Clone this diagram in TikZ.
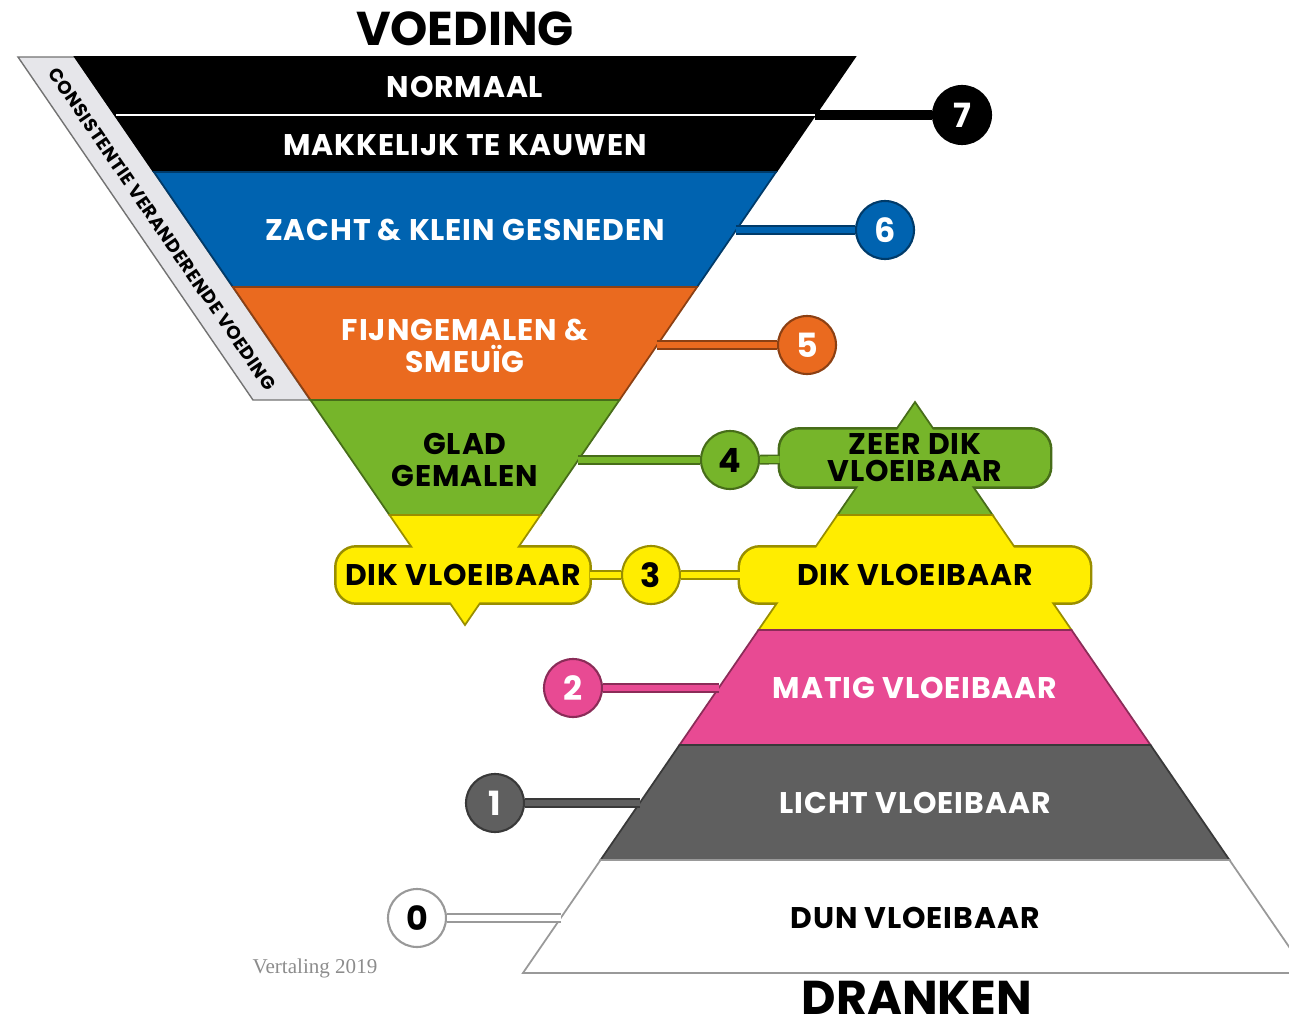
\documentclass[tikz,border=0pt]{standalone}
\usepackage{fontspec}
\setmainfont{Poppins}
\newfontfamily\lblfont{Poppins}[LetterSpace=3]
\newfontfamily\notefont{Liberation Serif}
\definecolor{vblue}{RGB}{0,99,176}
\definecolor{vorange}{RGB}{234,106,31}
\definecolor{vgreen}{RGB}{118,181,42}
\definecolor{vyellow}{RGB}{255,237,0}
\definecolor{vpink}{RGB}{232,74,147}
\definecolor{vgray}{RGB}{95,95,95}
\definecolor{vstrip}{RGB}{230,230,234}
\pgfdeclarelayer{outline}
\pgfsetlayers{outline,main}

\begin{document}
\begin{tikzpicture}[x=0.02cm, y=-0.02cm]
  \tikzstyle{lbl} = [font=\lblfont\bfseries\fontsize{17}{18.5}\selectfont, align=center]
  \tikzstyle{title} = [font=\bfseries\fontsize{27}{28}\selectfont, inner sep=0pt]
  \tikzstyle{num} = [circle, minimum size=1.16cm, inner sep=0pt, line width=1.2pt, font=\bfseries\fontsize{19}{19}\selectfont]
  \tikzstyle{vbox} = [lbl, rectangle, rounded corners=0.4cm, inner sep=0pt]
  \tikzstyle{band} = [line width=1pt]
  \tikzstyle{conn} = [line width=0.9pt, double distance=3.8pt]
  \useasboundingbox (0,0) rectangle (1289,1024);

  \draw[fill=vstrip, draw=black!55, line width=0.8pt] (18,57) -- (75,57) -- (310,400) -- (253,400) -- cycle;
  \node[font=\lblfont\bfseries\fontsize{10.5}{11}\selectfont, rotate=-55.5, inner sep=0pt] (strip) at (162,229) {CONSISTENTIE VERANDERENDE VOEDING};

  \foreach \ya/\yb/\col in {57/172/black, 172/287/vblue, 287/400/vorange, 400/515/vgreen}
  {
    \draw[band, fill=\col, draw=\col!60!black] ({75+(\ya-57)*0.6866},\ya) -- ({855-(\ya-57)*0.6866},\ya) -- ({855-(\yb-57)*0.6866},\yb) -- ({75+(\yb-57)*0.6866},\yb) -- cycle;
  }
  \draw[band, fill=vyellow, draw=vyellow!60!black] (389.5,515) -- (540.5,515) -- (465,625) -- cycle;
  \draw[white, line width=1.4pt] (116,115) -- (815,115);

  \draw[band, fill=vgreen, draw=vgreen!60!black] (915,402) -- (992.6,515) -- (837.4,515) -- cycle;
  \foreach \ya/\yb/\col in {515/630/vyellow, 630/745/vpink, 745/860/vgray, 860/973/white}
  {
    \draw[band, fill=\col, draw=\col!60!black] ({915-(\ya-402)*0.6866},\ya) -- ({915+(\ya-402)*0.6866},\ya) -- ({915+(\yb-402)*0.6866},\yb) -- ({915-(\yb-402)*0.6866},\yb) -- cycle;
  }

  \node[lbl, text=white] (normaal) at (465,87) {NORMAAL};
  \node[lbl, text=white] (kauwen) at (465,145) {MAKKELIJK TE KAUWEN};
  \node[lbl, text=white] (zacht) at (465,230) {ZACHT \& KLEIN GESNEDEN};
  \node[lbl, text=white] (fijn) at (465,346) {FIJNGEMALEN \&\\SMEUÏG};
  \node[lbl] (glad) at (465,460) {GLAD\\GEMALEN};

  \node[vbox, fill=vyellow, minimum width=5.06cm, minimum height=1.1cm] (dikL) at (463,575) {DIK VLOEIBAAR};
  \node[vbox, fill=vyellow, minimum width=7cm, minimum height=1.1cm] (dikR) at (915,575) {DIK VLOEIBAAR};
  \node[vbox, fill=vgreen, minimum width=5.4cm, minimum height=1.14cm, font=\lblfont\bfseries\fontsize{17}{15.5}\selectfont] (zeerdik) at (915,458) {ZEER DIK\\VLOEIBAAR};
  \begin{pgfonlayer}{outline}
    \foreach \b/\col in {dikL/vyellow, dikR/vyellow, zeerdik/vgreen}
      \draw[\col!60!black, line width=2.4pt, rounded corners=0.4cm] (\b.south west) rectangle (\b.north east);
  \end{pgfonlayer}

  \node[lbl, text=white] (matig) at (915,688) {MATIG VLOEIBAAR};
  \node[lbl, text=white] (licht) at (915,803) {LICHT VLOEIBAAR};
  \node[lbl] (dun) at (915,918) {DUN VLOEIBAAR};

  \foreach \n/\x/\y/\col/\tc in {7/962/115/black/white, 6/885/230/vblue/white, 5/807/345/vorange/white, 4/730/460/vgreen/black, 3/651/575/vyellow/black, 2/573/688/vpink/white, 1/495/803/vgray/white, 0/417/918/white/black}
    \node[num, fill=\col, draw=\col!60!black, text=\tc] (c\n) at (\x,\y) {\n};

  \coordinate (e7) at (815,115);
  \coordinate (e6) at (736,230);
  \coordinate (e5) at (657,345);
  \coordinate (e4) at (578,460);
  \coordinate (e2) at (719,688);
  \coordinate (e1) at (640,803);
  \coordinate (e0) at (561,918);
  \foreach \n/\col in {7/black, 6/vblue, 5/vorange, 4/vgreen, 2/vpink, 1/vgray, 0/white}
    \draw[conn, draw=\col!60!black, double=\col] (e\n) -- (c\n);
  \draw[conn, draw=vgreen!60!black, double=vgreen] (c4) -- (zeerdik);
  \draw[conn, draw=vyellow!60!black, double=vyellow] (dikL) -- (c3) -- (dikR);

  \node[title] (voeding) at (465,29) {VOEDING};
  \node[title] (dranken) at (917,998) {DRANKEN};
  \node[font=\notefont\fontsize{12}{12}\selectfont, text=black!45] (vertaling) at (315,968) {Vertaling 2019};
\end{tikzpicture}
\end{document}
